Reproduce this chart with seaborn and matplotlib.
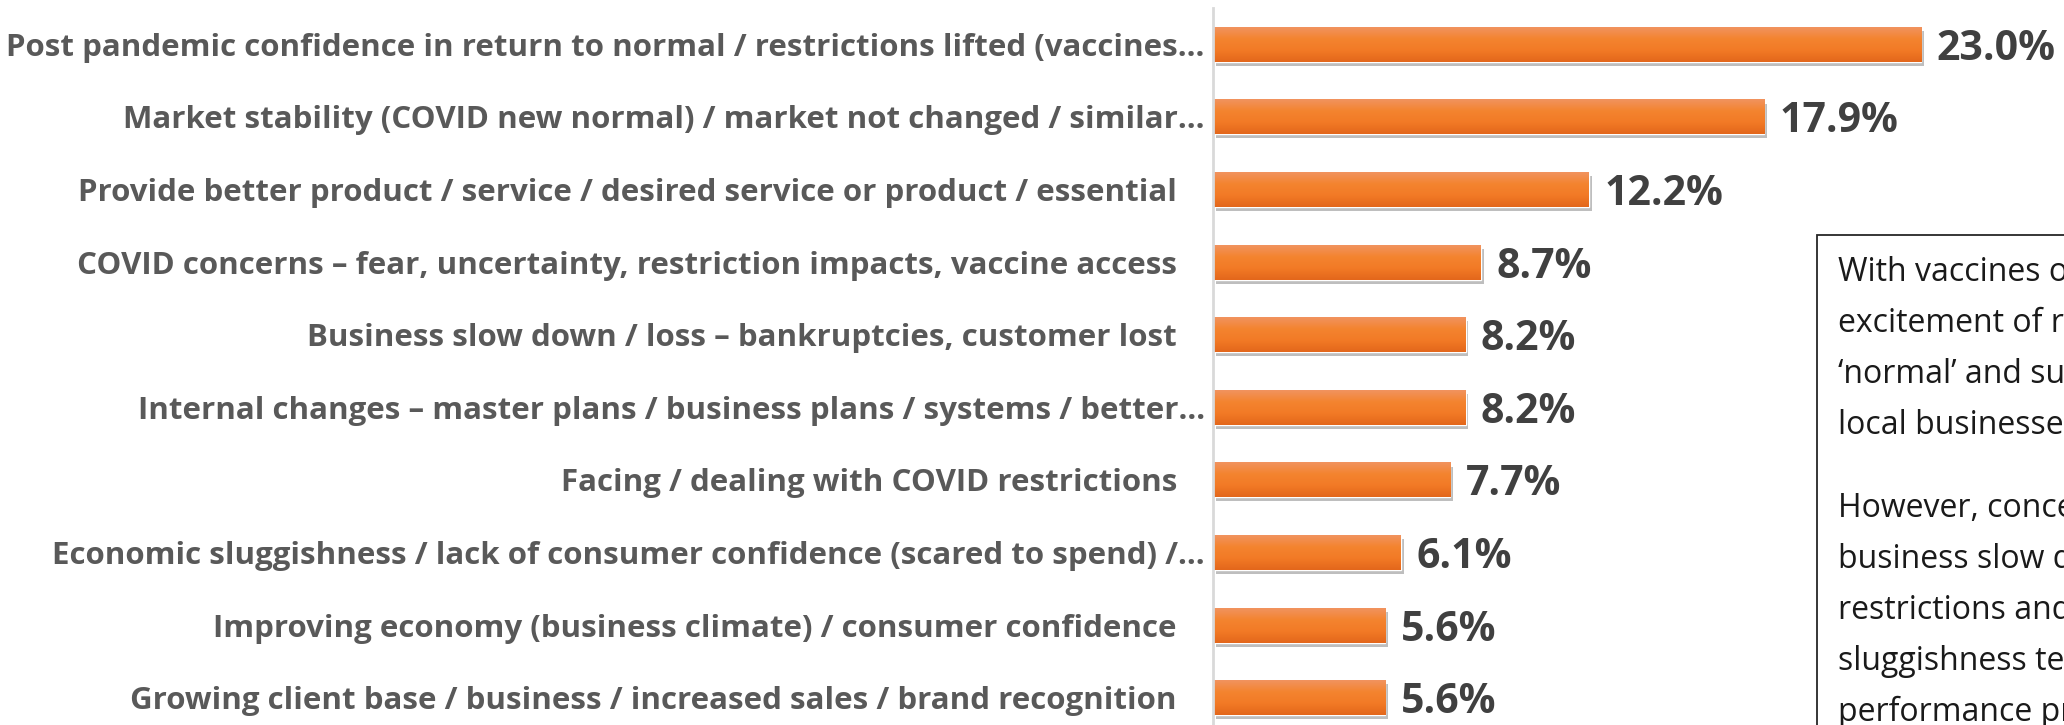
import numpy as np
import matplotlib
matplotlib.use('Agg')
import matplotlib.pyplot as plt
import matplotlib.patheffects as pe
from matplotlib.colors import LinearSegmentedColormap
from matplotlib.patches import Rectangle
import seaborn as sns

# data
categories = [
    'Post pandemic confidence in return to normal / restrictions lifted (vaccines…',
    'Market stability (COVID new normal) / market not changed / similar…',
    'Provide better product / service / desired service or product / essential',
    'COVID concerns – fear, uncertainty, restriction impacts, vaccine access',
    'Business slow down / loss – bankruptcies, customer lost',
    'Internal changes – master plans / business plans / systems / better…',
    'Facing / dealing with COVID restrictions',
    'Economic sluggishness / lack of consumer confidence (scared to spend) /…',
    'Improving economy (business climate) / consumer confidence',
    'Growing client base / business / increased sales / brand recognition',
]
values = [23.0, 17.9, 12.2, 8.7, 8.2, 8.2, 7.7, 6.1, 5.6, 5.6]

note_para1 = ['With vaccines on the horizon, there is',
              'excitement of returning to life as',
              '‘normal’ and support for',
              'local businesses.']
note_para2 = ['However, concerns with COVID,',
              'business slow down, ongoing',
              'restrictions and economic',
              'sluggishness temper',
              'performance predictions.']

# %%
sns.set_theme(style='white')
plt.rcParams['font.family'] = ['Open Sans', 'DejaVu Sans']

W, H = 2064, 725
fig = plt.figure(figsize=(W / 100, H / 100), dpi=100, facecolor='white')

# axes placed in pixels: zero line at x=1213, rows 72.6 px apart
ax = fig.add_axes([1213 / W, (H - 734) / H, 770 / W, 726 / H])

sns.barplot(x=values, y=categories, orient='h', color='#F47B28',
            width=0.48, ax=ax, saturation=1)

ax.set_xlabel('')
ax.set_ylabel('')
ax.set_xticks([])
ax.set_yticks([])
for s in ['top', 'right', 'bottom']:
    ax.spines[s].set_visible(False)
ax.spines['left'].set_color('#D9D9D9')
ax.spines['left'].set_linewidth(2)
ax.spines['left'].set_zorder(5)

# gradient fill + soft shadow on every bar
cmap = LinearSegmentedColormap.from_list(
    'orange', ['#F1935F', '#F4842F', '#F27A26', '#E3671B'])
grad = np.linspace(0, 1, 64).reshape(-1, 1)
for bar in ax.patches:
    bar.set_path_effects([pe.SimplePatchShadow(offset=(2, -3), shadow_rgbFace='#6f6f6f', alpha=0.45),
                          pe.Normal()])
    x0, y0 = bar.get_x(), bar.get_y()
    w, h = bar.get_width(), bar.get_height()
    im = ax.imshow(grad, cmap=cmap, aspect='auto', origin='upper',
                   extent=(x0, x0 + w, y0 + h, y0), zorder=bar.get_zorder() + 0.1)
    im.set_clip_path(bar)
ax.set_xlim(0, 25)
ax.set_ylim(len(categories) - 0.5, -0.5)

# category labels and value labels
for i, (lab, v) in enumerate(zip(categories, values)):
    off = -6 if lab.endswith('…') else -26
    ax.annotate(lab, xy=(0, i), xycoords=('axes fraction', 'data'),
                xytext=(off, 0), textcoords='offset points',
                ha='right', va='center_baseline', fontsize=22.5,
                fontweight='bold', color='#595959', annotation_clip=False)
    ax.annotate(f'{v:.1f}%', xy=(v, i), xytext=(11, 0), textcoords='offset points',
                ha='left', va='center_baseline', fontsize=29.5,
                fontweight='bold', color='#404040', annotation_clip=False)

# commentary box running off the right / bottom edge
box = Rectangle((1817 / W, -0.05), 0.2, (H - 235) / H + 0.05,
                transform=fig.transFigure, fill=False,
                edgecolor='#262626', linewidth=1.3)
fig.patches.append(box)

step = 51
for k, line in enumerate(note_para1):
    fig.text(1838 / W, (H - 281 - k * step) / H, line, fontsize=23,
             color='#1a1a1a', va='baseline')
for k, line in enumerate(note_para2):
    fig.text(1838 / W, (H - 517 - k * step) / H, line, fontsize=23,
             color='#1a1a1a', va='baseline')

fig.savefig('out.png', dpi=100)
